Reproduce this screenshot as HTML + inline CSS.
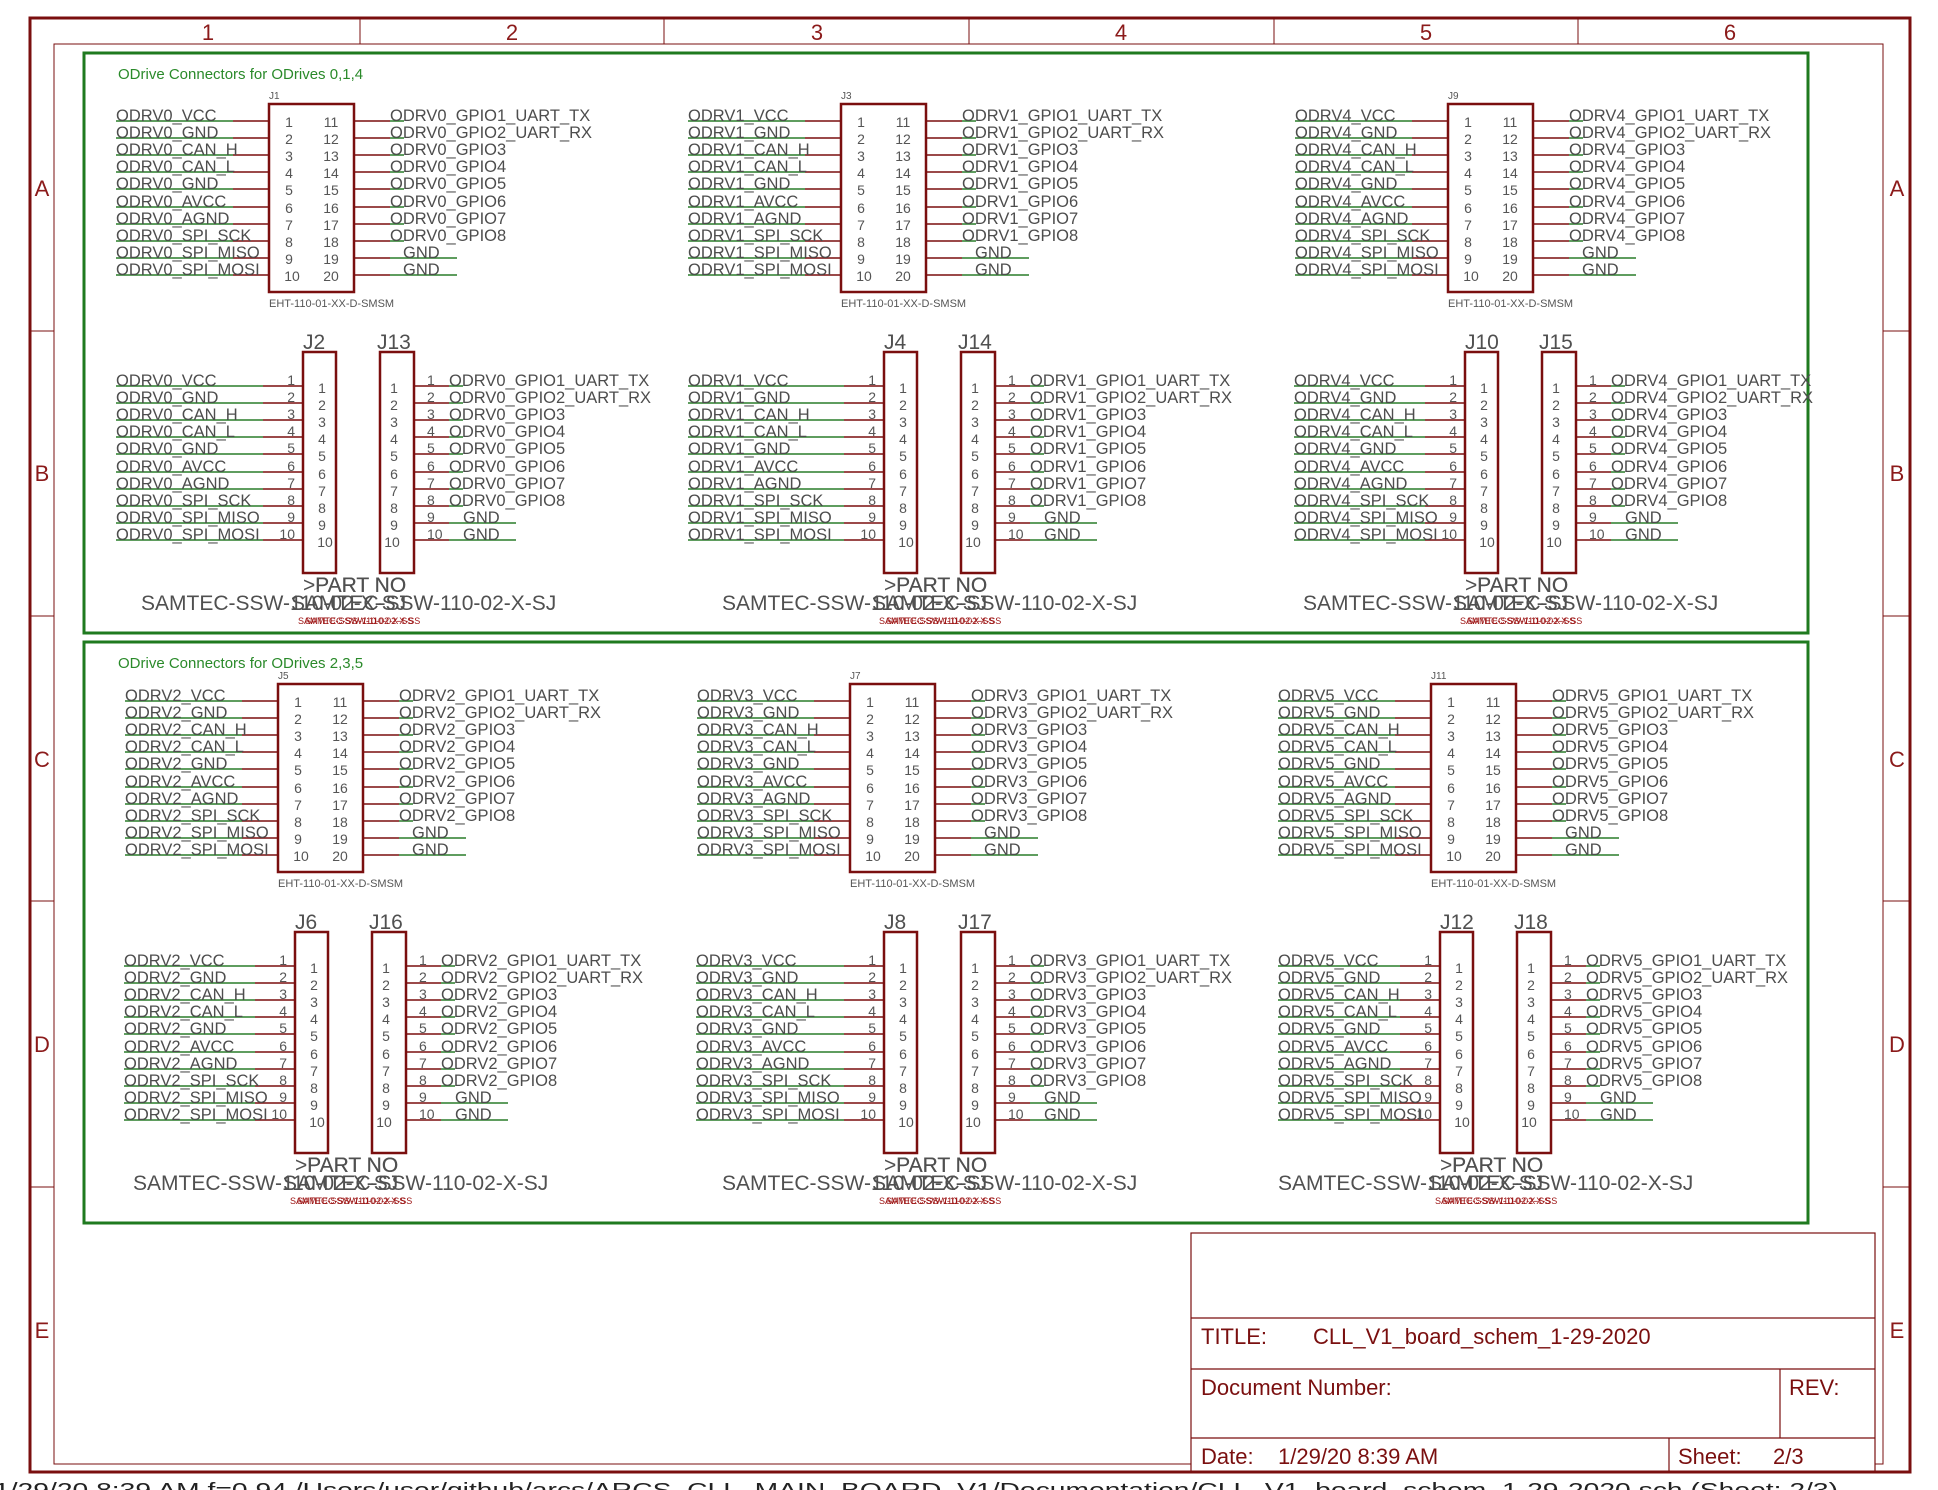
<!DOCTYPE html>
<html><head><meta charset="utf-8"><style>
html,body{margin:0;padding:0;background:#fff}
svg{display:block}
text{font-family:"Liberation Sans",sans-serif}
.l{font-size:16.5px;fill:#4d4d4d}
.n{font-size:14px;fill:#555}
.bx{fill:none;stroke:#7a0f0f;stroke-width:2.5}
.mw{stroke:#7a0f0f;stroke-width:1.6;fill:none}
.gw{stroke:#2a7d2a;stroke-width:1.6;fill:none}
.sm{font-size:10px;fill:#555}
.eh{font-size:11px;fill:#555}
.big{font-size:21px;fill:#505050}
.red{font-size:9px;fill:#9b1010}
.fr{fill:none;stroke:#7a0f0f}
.gl{font-size:22px;fill:#8b1a1a}
.tb{font-size:22px;fill:#7a0f0f}
</style></head><body>
<svg width="1938" height="1490" viewBox="0 0 1938 1490" xmlns="http://www.w3.org/2000/svg">
<defs>
<g id="ehtw">
<rect x="0" y="-17" width="85" height="188" class="bx"/>
<path class="mw" d="M-36 0H0M-36 17H0M-36 34H0M-36 51H0M-36 68H0M-36 86H0M-36 103H0M-36 120H0M-36 137H0M-36 154H0M85 0H121M85 17H121M85 34H121M85 51H121M85 68H121M85 86H121M85 103H121M85 120H121M85 137H121M85 154H121"/>
<path class="gw" d="M-153 0H-36M-153 17H-36M-153 34H-36M-153 51H-36M-153 68H-36M-153 86H-36M-153 103H-36M-153 120H-36M-153 137H-36M-153 154H-36M121 0H135M121 17H135M121 34H135M121 51H135M121 68H135M121 86H135M121 103H135M121 120H135M121 137H188M121 154H188"/>
</g>
<g id="sscw">
<rect x="0" y="-34" width="33" height="221" class="bx"/>
<rect x="77" y="-34" width="34" height="221" class="bx"/>
<path class="mw" d="M-40 0H0M-40 17H0M-40 34H0M-40 51H0M-40 68H0M-40 86H0M-40 103H0M-40 120H0M-40 137H0M-40 154H0M111 0H146M111 17H146M111 34H146M111 51H146M111 68H146M111 86H146M111 103H146M111 120H146M111 137H146M111 154H146"/>
<path class="gw" d="M146 0H160M146 17H160M146 34H160M146 51H160M146 68H160M146 86H160M146 103H160M146 120H160M146 137H213M146 154H213"/>
</g>
</defs>
<rect x="54" y="44" width="1829" height="1420" class="fr" stroke-width="1"/>
<path class="fr" stroke-width="1" d="M360 18V44M664 18V44M969 18V44M1274 18V44M1578 18V44M30 331H54M30 616H54M30 901H54M30 1187H54M1883 331H1910M1883 616H1910M1883 901H1910M1883 1187H1910"/>
<g class="gl" text-anchor="middle">
<text x="208" y="40">1</text><text x="512" y="40">2</text><text x="817" y="40">3</text><text x="1121" y="40">4</text><text x="1426" y="40">5</text><text x="1730" y="40">6</text>
<text x="42" y="196">A</text><text x="42" y="481">B</text><text x="42" y="767">C</text><text x="42" y="1052">D</text><text x="42" y="1338">E</text>
<text x="1897" y="196">A</text><text x="1897" y="481">B</text><text x="1897" y="767">C</text><text x="1897" y="1052">D</text><text x="1897" y="1338">E</text>
</g>
<rect x="84" y="53" width="1724" height="580" fill="none" stroke="#1f7a1f" stroke-width="3"/>
<rect x="84" y="642" width="1724" height="581" fill="none" stroke="#1f7a1f" stroke-width="3"/>
<text x="118" y="79" style="font-size:15px;fill:#2a8a2a">ODrive Connectors for ODrives 0,1,4</text>
<text x="118" y="668" style="font-size:15px;fill:#2a8a2a">ODrive Connectors for ODrives 2,3,5</text>

<g transform="translate(269,121)">
<use href="#ehtw"/>
<text class="sm" x="0" y="-22">J1</text>
<text class="eh" x="0" y="186">EHT-110-01-XX-D-SMSM</text>
<g class="l"><text x="-153" y="0">ODRV0_VCC</text><text x="-153" y="17">ODRV0_GND</text><text x="-153" y="34">ODRV0_CAN_H</text><text x="-153" y="51">ODRV0_CAN_L</text><text x="-153" y="68">ODRV0_GND</text><text x="-153" y="86">ODRV0_AVCC</text><text x="-153" y="103">ODRV0_AGND</text><text x="-153" y="120">ODRV0_SPI_SCK</text><text x="-153" y="137">ODRV0_SPI_MISO</text><text x="-153" y="154">ODRV0_SPI_MOSI</text>
<text x="121" y="0">ODRV0_GPIO1_UART_TX</text><text x="121" y="17">ODRV0_GPIO2_UART_RX</text><text x="121" y="34">ODRV0_GPIO3</text><text x="121" y="51">ODRV0_GPIO4</text><text x="121" y="68">ODRV0_GPIO5</text><text x="121" y="86">ODRV0_GPIO6</text><text x="121" y="103">ODRV0_GPIO7</text><text x="121" y="120">ODRV0_GPIO8</text><text x="134" y="137">GND</text><text x="134" y="154">GND</text></g>
<text class="n" text-anchor="middle"><tspan x="20" y="6">1</tspan><tspan x="20" y="23">2</tspan><tspan x="20" y="40">3</tspan><tspan x="20" y="57">4</tspan><tspan x="20" y="74">5</tspan><tspan x="20" y="92">6</tspan><tspan x="20" y="109">7</tspan><tspan x="20" y="126">8</tspan><tspan x="20" y="143">9</tspan><tspan x="23" y="160">10</tspan><tspan x="62" y="6">11</tspan><tspan x="62" y="23">12</tspan><tspan x="62" y="40">13</tspan><tspan x="62" y="57">14</tspan><tspan x="62" y="74">15</tspan><tspan x="62" y="92">16</tspan><tspan x="62" y="109">17</tspan><tspan x="62" y="126">18</tspan><tspan x="62" y="143">19</tspan><tspan x="62" y="160">20</tspan></text>
</g>

<g transform="translate(841,121)">
<use href="#ehtw"/>
<text class="sm" x="0" y="-22">J3</text>
<text class="eh" x="0" y="186">EHT-110-01-XX-D-SMSM</text>
<g class="l"><text x="-153" y="0">ODRV1_VCC</text><text x="-153" y="17">ODRV1_GND</text><text x="-153" y="34">ODRV1_CAN_H</text><text x="-153" y="51">ODRV1_CAN_L</text><text x="-153" y="68">ODRV1_GND</text><text x="-153" y="86">ODRV1_AVCC</text><text x="-153" y="103">ODRV1_AGND</text><text x="-153" y="120">ODRV1_SPI_SCK</text><text x="-153" y="137">ODRV1_SPI_MISO</text><text x="-153" y="154">ODRV1_SPI_MOSI</text>
<text x="121" y="0">ODRV1_GPIO1_UART_TX</text><text x="121" y="17">ODRV1_GPIO2_UART_RX</text><text x="121" y="34">ODRV1_GPIO3</text><text x="121" y="51">ODRV1_GPIO4</text><text x="121" y="68">ODRV1_GPIO5</text><text x="121" y="86">ODRV1_GPIO6</text><text x="121" y="103">ODRV1_GPIO7</text><text x="121" y="120">ODRV1_GPIO8</text><text x="134" y="137">GND</text><text x="134" y="154">GND</text></g>
<text class="n" text-anchor="middle"><tspan x="20" y="6">1</tspan><tspan x="20" y="23">2</tspan><tspan x="20" y="40">3</tspan><tspan x="20" y="57">4</tspan><tspan x="20" y="74">5</tspan><tspan x="20" y="92">6</tspan><tspan x="20" y="109">7</tspan><tspan x="20" y="126">8</tspan><tspan x="20" y="143">9</tspan><tspan x="23" y="160">10</tspan><tspan x="62" y="6">11</tspan><tspan x="62" y="23">12</tspan><tspan x="62" y="40">13</tspan><tspan x="62" y="57">14</tspan><tspan x="62" y="74">15</tspan><tspan x="62" y="92">16</tspan><tspan x="62" y="109">17</tspan><tspan x="62" y="126">18</tspan><tspan x="62" y="143">19</tspan><tspan x="62" y="160">20</tspan></text>
</g>

<g transform="translate(1448,121)">
<use href="#ehtw"/>
<text class="sm" x="0" y="-22">J9</text>
<text class="eh" x="0" y="186">EHT-110-01-XX-D-SMSM</text>
<g class="l"><text x="-153" y="0">ODRV4_VCC</text><text x="-153" y="17">ODRV4_GND</text><text x="-153" y="34">ODRV4_CAN_H</text><text x="-153" y="51">ODRV4_CAN_L</text><text x="-153" y="68">ODRV4_GND</text><text x="-153" y="86">ODRV4_AVCC</text><text x="-153" y="103">ODRV4_AGND</text><text x="-153" y="120">ODRV4_SPI_SCK</text><text x="-153" y="137">ODRV4_SPI_MISO</text><text x="-153" y="154">ODRV4_SPI_MOSI</text>
<text x="121" y="0">ODRV4_GPIO1_UART_TX</text><text x="121" y="17">ODRV4_GPIO2_UART_RX</text><text x="121" y="34">ODRV4_GPIO3</text><text x="121" y="51">ODRV4_GPIO4</text><text x="121" y="68">ODRV4_GPIO5</text><text x="121" y="86">ODRV4_GPIO6</text><text x="121" y="103">ODRV4_GPIO7</text><text x="121" y="120">ODRV4_GPIO8</text><text x="134" y="137">GND</text><text x="134" y="154">GND</text></g>
<text class="n" text-anchor="middle"><tspan x="20" y="6">1</tspan><tspan x="20" y="23">2</tspan><tspan x="20" y="40">3</tspan><tspan x="20" y="57">4</tspan><tspan x="20" y="74">5</tspan><tspan x="20" y="92">6</tspan><tspan x="20" y="109">7</tspan><tspan x="20" y="126">8</tspan><tspan x="20" y="143">9</tspan><tspan x="23" y="160">10</tspan><tspan x="62" y="6">11</tspan><tspan x="62" y="23">12</tspan><tspan x="62" y="40">13</tspan><tspan x="62" y="57">14</tspan><tspan x="62" y="74">15</tspan><tspan x="62" y="92">16</tspan><tspan x="62" y="109">17</tspan><tspan x="62" y="126">18</tspan><tspan x="62" y="143">19</tspan><tspan x="62" y="160">20</tspan></text>
</g>

<g transform="translate(278,701)">
<use href="#ehtw"/>
<text class="sm" x="0" y="-22">J5</text>
<text class="eh" x="0" y="186">EHT-110-01-XX-D-SMSM</text>
<g class="l"><text x="-153" y="0">ODRV2_VCC</text><text x="-153" y="17">ODRV2_GND</text><text x="-153" y="34">ODRV2_CAN_H</text><text x="-153" y="51">ODRV2_CAN_L</text><text x="-153" y="68">ODRV2_GND</text><text x="-153" y="86">ODRV2_AVCC</text><text x="-153" y="103">ODRV2_AGND</text><text x="-153" y="120">ODRV2_SPI_SCK</text><text x="-153" y="137">ODRV2_SPI_MISO</text><text x="-153" y="154">ODRV2_SPI_MOSI</text>
<text x="121" y="0">ODRV2_GPIO1_UART_TX</text><text x="121" y="17">ODRV2_GPIO2_UART_RX</text><text x="121" y="34">ODRV2_GPIO3</text><text x="121" y="51">ODRV2_GPIO4</text><text x="121" y="68">ODRV2_GPIO5</text><text x="121" y="86">ODRV2_GPIO6</text><text x="121" y="103">ODRV2_GPIO7</text><text x="121" y="120">ODRV2_GPIO8</text><text x="134" y="137">GND</text><text x="134" y="154">GND</text></g>
<text class="n" text-anchor="middle"><tspan x="20" y="6">1</tspan><tspan x="20" y="23">2</tspan><tspan x="20" y="40">3</tspan><tspan x="20" y="57">4</tspan><tspan x="20" y="74">5</tspan><tspan x="20" y="92">6</tspan><tspan x="20" y="109">7</tspan><tspan x="20" y="126">8</tspan><tspan x="20" y="143">9</tspan><tspan x="23" y="160">10</tspan><tspan x="62" y="6">11</tspan><tspan x="62" y="23">12</tspan><tspan x="62" y="40">13</tspan><tspan x="62" y="57">14</tspan><tspan x="62" y="74">15</tspan><tspan x="62" y="92">16</tspan><tspan x="62" y="109">17</tspan><tspan x="62" y="126">18</tspan><tspan x="62" y="143">19</tspan><tspan x="62" y="160">20</tspan></text>
</g>

<g transform="translate(850,701)">
<use href="#ehtw"/>
<text class="sm" x="0" y="-22">J7</text>
<text class="eh" x="0" y="186">EHT-110-01-XX-D-SMSM</text>
<g class="l"><text x="-153" y="0">ODRV3_VCC</text><text x="-153" y="17">ODRV3_GND</text><text x="-153" y="34">ODRV3_CAN_H</text><text x="-153" y="51">ODRV3_CAN_L</text><text x="-153" y="68">ODRV3_GND</text><text x="-153" y="86">ODRV3_AVCC</text><text x="-153" y="103">ODRV3_AGND</text><text x="-153" y="120">ODRV3_SPI_SCK</text><text x="-153" y="137">ODRV3_SPI_MISO</text><text x="-153" y="154">ODRV3_SPI_MOSI</text>
<text x="121" y="0">ODRV3_GPIO1_UART_TX</text><text x="121" y="17">ODRV3_GPIO2_UART_RX</text><text x="121" y="34">ODRV3_GPIO3</text><text x="121" y="51">ODRV3_GPIO4</text><text x="121" y="68">ODRV3_GPIO5</text><text x="121" y="86">ODRV3_GPIO6</text><text x="121" y="103">ODRV3_GPIO7</text><text x="121" y="120">ODRV3_GPIO8</text><text x="134" y="137">GND</text><text x="134" y="154">GND</text></g>
<text class="n" text-anchor="middle"><tspan x="20" y="6">1</tspan><tspan x="20" y="23">2</tspan><tspan x="20" y="40">3</tspan><tspan x="20" y="57">4</tspan><tspan x="20" y="74">5</tspan><tspan x="20" y="92">6</tspan><tspan x="20" y="109">7</tspan><tspan x="20" y="126">8</tspan><tspan x="20" y="143">9</tspan><tspan x="23" y="160">10</tspan><tspan x="62" y="6">11</tspan><tspan x="62" y="23">12</tspan><tspan x="62" y="40">13</tspan><tspan x="62" y="57">14</tspan><tspan x="62" y="74">15</tspan><tspan x="62" y="92">16</tspan><tspan x="62" y="109">17</tspan><tspan x="62" y="126">18</tspan><tspan x="62" y="143">19</tspan><tspan x="62" y="160">20</tspan></text>
</g>

<g transform="translate(1431,701)">
<use href="#ehtw"/>
<text class="sm" x="0" y="-22">J11</text>
<text class="eh" x="0" y="186">EHT-110-01-XX-D-SMSM</text>
<g class="l"><text x="-153" y="0">ODRV5_VCC</text><text x="-153" y="17">ODRV5_GND</text><text x="-153" y="34">ODRV5_CAN_H</text><text x="-153" y="51">ODRV5_CAN_L</text><text x="-153" y="68">ODRV5_GND</text><text x="-153" y="86">ODRV5_AVCC</text><text x="-153" y="103">ODRV5_AGND</text><text x="-153" y="120">ODRV5_SPI_SCK</text><text x="-153" y="137">ODRV5_SPI_MISO</text><text x="-153" y="154">ODRV5_SPI_MOSI</text>
<text x="121" y="0">ODRV5_GPIO1_UART_TX</text><text x="121" y="17">ODRV5_GPIO2_UART_RX</text><text x="121" y="34">ODRV5_GPIO3</text><text x="121" y="51">ODRV5_GPIO4</text><text x="121" y="68">ODRV5_GPIO5</text><text x="121" y="86">ODRV5_GPIO6</text><text x="121" y="103">ODRV5_GPIO7</text><text x="121" y="120">ODRV5_GPIO8</text><text x="134" y="137">GND</text><text x="134" y="154">GND</text></g>
<text class="n" text-anchor="middle"><tspan x="20" y="6">1</tspan><tspan x="20" y="23">2</tspan><tspan x="20" y="40">3</tspan><tspan x="20" y="57">4</tspan><tspan x="20" y="74">5</tspan><tspan x="20" y="92">6</tspan><tspan x="20" y="109">7</tspan><tspan x="20" y="126">8</tspan><tspan x="20" y="143">9</tspan><tspan x="23" y="160">10</tspan><tspan x="62" y="6">11</tspan><tspan x="62" y="23">12</tspan><tspan x="62" y="40">13</tspan><tspan x="62" y="57">14</tspan><tspan x="62" y="74">15</tspan><tspan x="62" y="92">16</tspan><tspan x="62" y="109">17</tspan><tspan x="62" y="126">18</tspan><tspan x="62" y="143">19</tspan><tspan x="62" y="160">20</tspan></text>
</g>

<g transform="translate(303,386)">
<use href="#sscw"/>
<path class="gw" d="M-187 0H-40M-187 17H-40M-187 34H-40M-187 51H-40M-187 68H-40M-187 86H-40M-187 103H-40M-187 120H-40M-187 137H-40M-187 154H-40"/>
<text class="big" x="0" y="-37">J2</text><text class="big" x="74" y="-37">J13</text>
<g class="l"><text x="-187" y="0">ODRV0_VCC</text><text x="-187" y="17">ODRV0_GND</text><text x="-187" y="34">ODRV0_CAN_H</text><text x="-187" y="51">ODRV0_CAN_L</text><text x="-187" y="68">ODRV0_GND</text><text x="-187" y="86">ODRV0_AVCC</text><text x="-187" y="103">ODRV0_AGND</text><text x="-187" y="120">ODRV0_SPI_SCK</text><text x="-187" y="137">ODRV0_SPI_MISO</text><text x="-187" y="154">ODRV0_SPI_MOSI</text>
<text x="146" y="0">ODRV0_GPIO1_UART_TX</text><text x="146" y="17">ODRV0_GPIO2_UART_RX</text><text x="146" y="34">ODRV0_GPIO3</text><text x="146" y="51">ODRV0_GPIO4</text><text x="146" y="68">ODRV0_GPIO5</text><text x="146" y="86">ODRV0_GPIO6</text><text x="146" y="103">ODRV0_GPIO7</text><text x="146" y="120">ODRV0_GPIO8</text><text x="160" y="137">GND</text><text x="160" y="154">GND</text></g>
<text class="n" text-anchor="end"><tspan x="-8" y="-1">1</tspan><tspan x="-8" y="16">2</tspan><tspan x="-8" y="33">3</tspan><tspan x="-8" y="50">4</tspan><tspan x="-8" y="67">5</tspan><tspan x="-8" y="85">6</tspan><tspan x="-8" y="102">7</tspan><tspan x="-8" y="119">8</tspan><tspan x="-8" y="136">9</tspan><tspan x="-8" y="153">10</tspan></text>
<text class="n" text-anchor="middle"><tspan x="19" y="7">1</tspan><tspan x="19" y="24">2</tspan><tspan x="19" y="41">3</tspan><tspan x="19" y="58">4</tspan><tspan x="19" y="75">5</tspan><tspan x="19" y="93">6</tspan><tspan x="19" y="110">7</tspan><tspan x="19" y="127">8</tspan><tspan x="19" y="144">9</tspan><tspan x="22" y="161">10</tspan><tspan x="91" y="7">1</tspan><tspan x="91" y="24">2</tspan><tspan x="91" y="41">3</tspan><tspan x="91" y="58">4</tspan><tspan x="91" y="75">5</tspan><tspan x="91" y="93">6</tspan><tspan x="91" y="110">7</tspan><tspan x="91" y="127">8</tspan><tspan x="91" y="144">9</tspan><tspan x="89" y="161">10</tspan></text>
<text class="n"><tspan x="124" y="-1">1</tspan><tspan x="124" y="16">2</tspan><tspan x="124" y="33">3</tspan><tspan x="124" y="50">4</tspan><tspan x="124" y="67">5</tspan><tspan x="124" y="85">6</tspan><tspan x="124" y="102">7</tspan><tspan x="124" y="119">8</tspan><tspan x="124" y="136">9</tspan><tspan x="124" y="153">10</tspan></text>
<text class="big" x="0" y="206">&gt;PART NO</text><text class="big" x="12" y="206">PART NO</text>
<text class="big" x="-162" y="224">SAMTEC-SSW-110-02-X-SJ</text><text class="big" x="-12" y="224">SAMTEC-SSW-110-02-X-SJ</text>
<text class="red" x="-5" y="238">SAMTEC-SSW-110-02-X-SS</text><text class="red" x="2" y="238">SAMTEC-SSW-110-02-X-SS</text>
</g>

<g transform="translate(884,386)">
<use href="#sscw"/>
<path class="gw" d="M-196 0H-40M-196 17H-40M-196 34H-40M-196 51H-40M-196 68H-40M-196 86H-40M-196 103H-40M-196 120H-40M-196 137H-40M-196 154H-40"/>
<text class="big" x="0" y="-37">J4</text><text class="big" x="74" y="-37">J14</text>
<g class="l"><text x="-196" y="0">ODRV1_VCC</text><text x="-196" y="17">ODRV1_GND</text><text x="-196" y="34">ODRV1_CAN_H</text><text x="-196" y="51">ODRV1_CAN_L</text><text x="-196" y="68">ODRV1_GND</text><text x="-196" y="86">ODRV1_AVCC</text><text x="-196" y="103">ODRV1_AGND</text><text x="-196" y="120">ODRV1_SPI_SCK</text><text x="-196" y="137">ODRV1_SPI_MISO</text><text x="-196" y="154">ODRV1_SPI_MOSI</text>
<text x="146" y="0">ODRV1_GPIO1_UART_TX</text><text x="146" y="17">ODRV1_GPIO2_UART_RX</text><text x="146" y="34">ODRV1_GPIO3</text><text x="146" y="51">ODRV1_GPIO4</text><text x="146" y="68">ODRV1_GPIO5</text><text x="146" y="86">ODRV1_GPIO6</text><text x="146" y="103">ODRV1_GPIO7</text><text x="146" y="120">ODRV1_GPIO8</text><text x="160" y="137">GND</text><text x="160" y="154">GND</text></g>
<text class="n" text-anchor="end"><tspan x="-8" y="-1">1</tspan><tspan x="-8" y="16">2</tspan><tspan x="-8" y="33">3</tspan><tspan x="-8" y="50">4</tspan><tspan x="-8" y="67">5</tspan><tspan x="-8" y="85">6</tspan><tspan x="-8" y="102">7</tspan><tspan x="-8" y="119">8</tspan><tspan x="-8" y="136">9</tspan><tspan x="-8" y="153">10</tspan></text>
<text class="n" text-anchor="middle"><tspan x="19" y="7">1</tspan><tspan x="19" y="24">2</tspan><tspan x="19" y="41">3</tspan><tspan x="19" y="58">4</tspan><tspan x="19" y="75">5</tspan><tspan x="19" y="93">6</tspan><tspan x="19" y="110">7</tspan><tspan x="19" y="127">8</tspan><tspan x="19" y="144">9</tspan><tspan x="22" y="161">10</tspan><tspan x="91" y="7">1</tspan><tspan x="91" y="24">2</tspan><tspan x="91" y="41">3</tspan><tspan x="91" y="58">4</tspan><tspan x="91" y="75">5</tspan><tspan x="91" y="93">6</tspan><tspan x="91" y="110">7</tspan><tspan x="91" y="127">8</tspan><tspan x="91" y="144">9</tspan><tspan x="89" y="161">10</tspan></text>
<text class="n"><tspan x="124" y="-1">1</tspan><tspan x="124" y="16">2</tspan><tspan x="124" y="33">3</tspan><tspan x="124" y="50">4</tspan><tspan x="124" y="67">5</tspan><tspan x="124" y="85">6</tspan><tspan x="124" y="102">7</tspan><tspan x="124" y="119">8</tspan><tspan x="124" y="136">9</tspan><tspan x="124" y="153">10</tspan></text>
<text class="big" x="0" y="206">&gt;PART NO</text><text class="big" x="12" y="206">PART NO</text>
<text class="big" x="-162" y="224">SAMTEC-SSW-110-02-X-SJ</text><text class="big" x="-12" y="224">SAMTEC-SSW-110-02-X-SJ</text>
<text class="red" x="-5" y="238">SAMTEC-SSW-110-02-X-SS</text><text class="red" x="2" y="238">SAMTEC-SSW-110-02-X-SS</text>
</g>

<g transform="translate(1465,386)">
<use href="#sscw"/>
<path class="gw" d="M-171 0H-40M-171 17H-40M-171 34H-40M-171 51H-40M-171 68H-40M-171 86H-40M-171 103H-40M-171 120H-40M-171 137H-40M-171 154H-40"/>
<text class="big" x="0" y="-37">J10</text><text class="big" x="74" y="-37">J15</text>
<g class="l"><text x="-171" y="0">ODRV4_VCC</text><text x="-171" y="17">ODRV4_GND</text><text x="-171" y="34">ODRV4_CAN_H</text><text x="-171" y="51">ODRV4_CAN_L</text><text x="-171" y="68">ODRV4_GND</text><text x="-171" y="86">ODRV4_AVCC</text><text x="-171" y="103">ODRV4_AGND</text><text x="-171" y="120">ODRV4_SPI_SCK</text><text x="-171" y="137">ODRV4_SPI_MISO</text><text x="-171" y="154">ODRV4_SPI_MOSI</text>
<text x="146" y="0">ODRV4_GPIO1_UART_TX</text><text x="146" y="17">ODRV4_GPIO2_UART_RX</text><text x="146" y="34">ODRV4_GPIO3</text><text x="146" y="51">ODRV4_GPIO4</text><text x="146" y="68">ODRV4_GPIO5</text><text x="146" y="86">ODRV4_GPIO6</text><text x="146" y="103">ODRV4_GPIO7</text><text x="146" y="120">ODRV4_GPIO8</text><text x="160" y="137">GND</text><text x="160" y="154">GND</text></g>
<text class="n" text-anchor="end"><tspan x="-8" y="-1">1</tspan><tspan x="-8" y="16">2</tspan><tspan x="-8" y="33">3</tspan><tspan x="-8" y="50">4</tspan><tspan x="-8" y="67">5</tspan><tspan x="-8" y="85">6</tspan><tspan x="-8" y="102">7</tspan><tspan x="-8" y="119">8</tspan><tspan x="-8" y="136">9</tspan><tspan x="-8" y="153">10</tspan></text>
<text class="n" text-anchor="middle"><tspan x="19" y="7">1</tspan><tspan x="19" y="24">2</tspan><tspan x="19" y="41">3</tspan><tspan x="19" y="58">4</tspan><tspan x="19" y="75">5</tspan><tspan x="19" y="93">6</tspan><tspan x="19" y="110">7</tspan><tspan x="19" y="127">8</tspan><tspan x="19" y="144">9</tspan><tspan x="22" y="161">10</tspan><tspan x="91" y="7">1</tspan><tspan x="91" y="24">2</tspan><tspan x="91" y="41">3</tspan><tspan x="91" y="58">4</tspan><tspan x="91" y="75">5</tspan><tspan x="91" y="93">6</tspan><tspan x="91" y="110">7</tspan><tspan x="91" y="127">8</tspan><tspan x="91" y="144">9</tspan><tspan x="89" y="161">10</tspan></text>
<text class="n"><tspan x="124" y="-1">1</tspan><tspan x="124" y="16">2</tspan><tspan x="124" y="33">3</tspan><tspan x="124" y="50">4</tspan><tspan x="124" y="67">5</tspan><tspan x="124" y="85">6</tspan><tspan x="124" y="102">7</tspan><tspan x="124" y="119">8</tspan><tspan x="124" y="136">9</tspan><tspan x="124" y="153">10</tspan></text>
<text class="big" x="0" y="206">&gt;PART NO</text><text class="big" x="12" y="206">PART NO</text>
<text class="big" x="-162" y="224">SAMTEC-SSW-110-02-X-SJ</text><text class="big" x="-12" y="224">SAMTEC-SSW-110-02-X-SJ</text>
<text class="red" x="-5" y="238">SAMTEC-SSW-110-02-X-SS</text><text class="red" x="2" y="238">SAMTEC-SSW-110-02-X-SS</text>
</g>

<g transform="translate(295,966)">
<use href="#sscw"/>
<path class="gw" d="M-171 0H-40M-171 17H-40M-171 34H-40M-171 51H-40M-171 68H-40M-171 86H-40M-171 103H-40M-171 120H-40M-171 137H-40M-171 154H-40"/>
<text class="big" x="0" y="-37">J6</text><text class="big" x="74" y="-37">J16</text>
<g class="l"><text x="-171" y="0">ODRV2_VCC</text><text x="-171" y="17">ODRV2_GND</text><text x="-171" y="34">ODRV2_CAN_H</text><text x="-171" y="51">ODRV2_CAN_L</text><text x="-171" y="68">ODRV2_GND</text><text x="-171" y="86">ODRV2_AVCC</text><text x="-171" y="103">ODRV2_AGND</text><text x="-171" y="120">ODRV2_SPI_SCK</text><text x="-171" y="137">ODRV2_SPI_MISO</text><text x="-171" y="154">ODRV2_SPI_MOSI</text>
<text x="146" y="0">ODRV2_GPIO1_UART_TX</text><text x="146" y="17">ODRV2_GPIO2_UART_RX</text><text x="146" y="34">ODRV2_GPIO3</text><text x="146" y="51">ODRV2_GPIO4</text><text x="146" y="68">ODRV2_GPIO5</text><text x="146" y="86">ODRV2_GPIO6</text><text x="146" y="103">ODRV2_GPIO7</text><text x="146" y="120">ODRV2_GPIO8</text><text x="160" y="137">GND</text><text x="160" y="154">GND</text></g>
<text class="n" text-anchor="end"><tspan x="-8" y="-1">1</tspan><tspan x="-8" y="16">2</tspan><tspan x="-8" y="33">3</tspan><tspan x="-8" y="50">4</tspan><tspan x="-8" y="67">5</tspan><tspan x="-8" y="85">6</tspan><tspan x="-8" y="102">7</tspan><tspan x="-8" y="119">8</tspan><tspan x="-8" y="136">9</tspan><tspan x="-8" y="153">10</tspan></text>
<text class="n" text-anchor="middle"><tspan x="19" y="7">1</tspan><tspan x="19" y="24">2</tspan><tspan x="19" y="41">3</tspan><tspan x="19" y="58">4</tspan><tspan x="19" y="75">5</tspan><tspan x="19" y="93">6</tspan><tspan x="19" y="110">7</tspan><tspan x="19" y="127">8</tspan><tspan x="19" y="144">9</tspan><tspan x="22" y="161">10</tspan><tspan x="91" y="7">1</tspan><tspan x="91" y="24">2</tspan><tspan x="91" y="41">3</tspan><tspan x="91" y="58">4</tspan><tspan x="91" y="75">5</tspan><tspan x="91" y="93">6</tspan><tspan x="91" y="110">7</tspan><tspan x="91" y="127">8</tspan><tspan x="91" y="144">9</tspan><tspan x="89" y="161">10</tspan></text>
<text class="n"><tspan x="124" y="-1">1</tspan><tspan x="124" y="16">2</tspan><tspan x="124" y="33">3</tspan><tspan x="124" y="50">4</tspan><tspan x="124" y="67">5</tspan><tspan x="124" y="85">6</tspan><tspan x="124" y="102">7</tspan><tspan x="124" y="119">8</tspan><tspan x="124" y="136">9</tspan><tspan x="124" y="153">10</tspan></text>
<text class="big" x="0" y="206">&gt;PART NO</text><text class="big" x="12" y="206">PART NO</text>
<text class="big" x="-162" y="224">SAMTEC-SSW-110-02-X-SJ</text><text class="big" x="-12" y="224">SAMTEC-SSW-110-02-X-SJ</text>
<text class="red" x="-5" y="238">SAMTEC-SSW-110-02-X-SS</text><text class="red" x="2" y="238">SAMTEC-SSW-110-02-X-SS</text>
</g>

<g transform="translate(884,966)">
<use href="#sscw"/>
<path class="gw" d="M-188 0H-40M-188 17H-40M-188 34H-40M-188 51H-40M-188 68H-40M-188 86H-40M-188 103H-40M-188 120H-40M-188 137H-40M-188 154H-40"/>
<text class="big" x="0" y="-37">J8</text><text class="big" x="74" y="-37">J17</text>
<g class="l"><text x="-188" y="0">ODRV3_VCC</text><text x="-188" y="17">ODRV3_GND</text><text x="-188" y="34">ODRV3_CAN_H</text><text x="-188" y="51">ODRV3_CAN_L</text><text x="-188" y="68">ODRV3_GND</text><text x="-188" y="86">ODRV3_AVCC</text><text x="-188" y="103">ODRV3_AGND</text><text x="-188" y="120">ODRV3_SPI_SCK</text><text x="-188" y="137">ODRV3_SPI_MISO</text><text x="-188" y="154">ODRV3_SPI_MOSI</text>
<text x="146" y="0">ODRV3_GPIO1_UART_TX</text><text x="146" y="17">ODRV3_GPIO2_UART_RX</text><text x="146" y="34">ODRV3_GPIO3</text><text x="146" y="51">ODRV3_GPIO4</text><text x="146" y="68">ODRV3_GPIO5</text><text x="146" y="86">ODRV3_GPIO6</text><text x="146" y="103">ODRV3_GPIO7</text><text x="146" y="120">ODRV3_GPIO8</text><text x="160" y="137">GND</text><text x="160" y="154">GND</text></g>
<text class="n" text-anchor="end"><tspan x="-8" y="-1">1</tspan><tspan x="-8" y="16">2</tspan><tspan x="-8" y="33">3</tspan><tspan x="-8" y="50">4</tspan><tspan x="-8" y="67">5</tspan><tspan x="-8" y="85">6</tspan><tspan x="-8" y="102">7</tspan><tspan x="-8" y="119">8</tspan><tspan x="-8" y="136">9</tspan><tspan x="-8" y="153">10</tspan></text>
<text class="n" text-anchor="middle"><tspan x="19" y="7">1</tspan><tspan x="19" y="24">2</tspan><tspan x="19" y="41">3</tspan><tspan x="19" y="58">4</tspan><tspan x="19" y="75">5</tspan><tspan x="19" y="93">6</tspan><tspan x="19" y="110">7</tspan><tspan x="19" y="127">8</tspan><tspan x="19" y="144">9</tspan><tspan x="22" y="161">10</tspan><tspan x="91" y="7">1</tspan><tspan x="91" y="24">2</tspan><tspan x="91" y="41">3</tspan><tspan x="91" y="58">4</tspan><tspan x="91" y="75">5</tspan><tspan x="91" y="93">6</tspan><tspan x="91" y="110">7</tspan><tspan x="91" y="127">8</tspan><tspan x="91" y="144">9</tspan><tspan x="89" y="161">10</tspan></text>
<text class="n"><tspan x="124" y="-1">1</tspan><tspan x="124" y="16">2</tspan><tspan x="124" y="33">3</tspan><tspan x="124" y="50">4</tspan><tspan x="124" y="67">5</tspan><tspan x="124" y="85">6</tspan><tspan x="124" y="102">7</tspan><tspan x="124" y="119">8</tspan><tspan x="124" y="136">9</tspan><tspan x="124" y="153">10</tspan></text>
<text class="big" x="0" y="206">&gt;PART NO</text><text class="big" x="12" y="206">PART NO</text>
<text class="big" x="-162" y="224">SAMTEC-SSW-110-02-X-SJ</text><text class="big" x="-12" y="224">SAMTEC-SSW-110-02-X-SJ</text>
<text class="red" x="-5" y="238">SAMTEC-SSW-110-02-X-SS</text><text class="red" x="2" y="238">SAMTEC-SSW-110-02-X-SS</text>
</g>

<g transform="translate(1440,966)">
<use href="#sscw"/>
<path class="gw" d="M-162 0H-40M-162 17H-40M-162 34H-40M-162 51H-40M-162 68H-40M-162 86H-40M-162 103H-40M-162 120H-40M-162 137H-40M-162 154H-40"/>
<text class="big" x="0" y="-37">J12</text><text class="big" x="74" y="-37">J18</text>
<g class="l"><text x="-162" y="0">ODRV5_VCC</text><text x="-162" y="17">ODRV5_GND</text><text x="-162" y="34">ODRV5_CAN_H</text><text x="-162" y="51">ODRV5_CAN_L</text><text x="-162" y="68">ODRV5_GND</text><text x="-162" y="86">ODRV5_AVCC</text><text x="-162" y="103">ODRV5_AGND</text><text x="-162" y="120">ODRV5_SPI_SCK</text><text x="-162" y="137">ODRV5_SPI_MISO</text><text x="-162" y="154">ODRV5_SPI_MOSI</text>
<text x="146" y="0">ODRV5_GPIO1_UART_TX</text><text x="146" y="17">ODRV5_GPIO2_UART_RX</text><text x="146" y="34">ODRV5_GPIO3</text><text x="146" y="51">ODRV5_GPIO4</text><text x="146" y="68">ODRV5_GPIO5</text><text x="146" y="86">ODRV5_GPIO6</text><text x="146" y="103">ODRV5_GPIO7</text><text x="146" y="120">ODRV5_GPIO8</text><text x="160" y="137">GND</text><text x="160" y="154">GND</text></g>
<text class="n" text-anchor="end"><tspan x="-8" y="-1">1</tspan><tspan x="-8" y="16">2</tspan><tspan x="-8" y="33">3</tspan><tspan x="-8" y="50">4</tspan><tspan x="-8" y="67">5</tspan><tspan x="-8" y="85">6</tspan><tspan x="-8" y="102">7</tspan><tspan x="-8" y="119">8</tspan><tspan x="-8" y="136">9</tspan><tspan x="-8" y="153">10</tspan></text>
<text class="n" text-anchor="middle"><tspan x="19" y="7">1</tspan><tspan x="19" y="24">2</tspan><tspan x="19" y="41">3</tspan><tspan x="19" y="58">4</tspan><tspan x="19" y="75">5</tspan><tspan x="19" y="93">6</tspan><tspan x="19" y="110">7</tspan><tspan x="19" y="127">8</tspan><tspan x="19" y="144">9</tspan><tspan x="22" y="161">10</tspan><tspan x="91" y="7">1</tspan><tspan x="91" y="24">2</tspan><tspan x="91" y="41">3</tspan><tspan x="91" y="58">4</tspan><tspan x="91" y="75">5</tspan><tspan x="91" y="93">6</tspan><tspan x="91" y="110">7</tspan><tspan x="91" y="127">8</tspan><tspan x="91" y="144">9</tspan><tspan x="89" y="161">10</tspan></text>
<text class="n"><tspan x="124" y="-1">1</tspan><tspan x="124" y="16">2</tspan><tspan x="124" y="33">3</tspan><tspan x="124" y="50">4</tspan><tspan x="124" y="67">5</tspan><tspan x="124" y="85">6</tspan><tspan x="124" y="102">7</tspan><tspan x="124" y="119">8</tspan><tspan x="124" y="136">9</tspan><tspan x="124" y="153">10</tspan></text>
<text class="big" x="0" y="206">&gt;PART NO</text><text class="big" x="12" y="206">PART NO</text>
<text class="big" x="-162" y="224">SAMTEC-SSW-110-02-X-SJ</text><text class="big" x="-12" y="224">SAMTEC-SSW-110-02-X-SJ</text>
<text class="red" x="-5" y="238">SAMTEC-SSW-110-02-X-SS</text><text class="red" x="2" y="238">SAMTEC-SSW-110-02-X-SS</text>
</g>

<rect x="1191" y="1233" width="684" height="239" fill="#fff" stroke="#7a0f0f" stroke-width="1.2"/>
<path class="fr" stroke-width="1.2" d="M1191 1318H1875M1191 1369H1875M1191 1438H1875M1780 1369V1438M1669 1438V1472"/>
<g class="tb">
<text x="1201" y="1344">TITLE:</text>
<text x="1313" y="1344">CLL_V1_board_schem_1-29-2020</text>
<text x="1201" y="1395">Document Number:</text>
<text x="1789" y="1395">REV:</text>
<text x="1201" y="1464">Date:</text>
<text x="1278" y="1464">1/29/20 8:39 AM</text>
<text x="1678" y="1464">Sheet:</text>
<text x="1773" y="1464">2/3</text>
</g>
<rect x="30" y="18" width="1880" height="1454" class="fr" stroke-width="3"/>
<text x="-6" y="1497" style="font-size:20px;fill:#222" textLength="1844" lengthAdjust="spacingAndGlyphs">1/29/20 8:39 AM f=0.94 /Users/user/github/arcs/ARCS_CLL_MAIN_BOARD_V1/Documentation/CLL_V1_board_schem_1-29-2020.sch (Sheet: 2/3)</text>
</svg>
</body></html>
